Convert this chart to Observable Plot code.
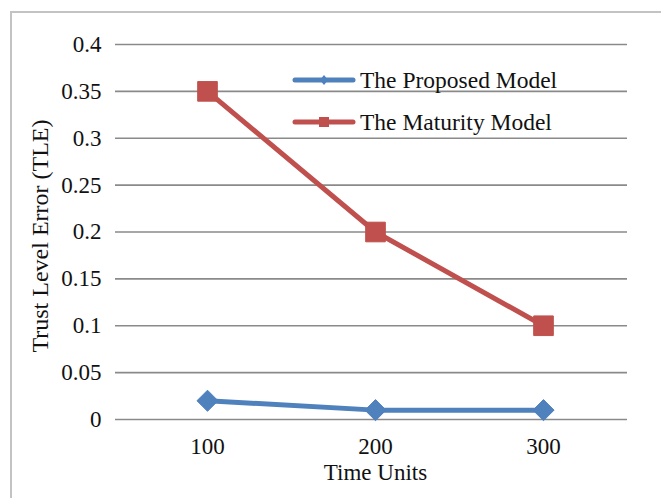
<!DOCTYPE html>
<html>
<head>
<meta charset="utf-8">
<script src="https://cdn.jsdelivr.net/npm/d3@7"></script>
<script src="https://cdn.jsdelivr.net/npm/@observablehq/plot@0.6"></script>
<style>
  html, body { margin: 0; padding: 0; background: #fff; overflow: hidden; }
  #wrap { position: relative; width: 661px; height: 498px; overflow: hidden; background: #fff; }
  #border { position: absolute; left: 10px; top: 11px; width: 700px; height: 600px; border: 2px solid #c3c3c3; box-sizing: border-box; }
  #chart { position: absolute; left: 0; top: 0; }
  #legend { position: absolute; left: 291px; top: 68px; font-family: "Liberation Serif", "Times New Roman", Tinos, "DejaVu Serif", serif; font-size: 23.5px; color: #111; }
  .item { display: flex; align-items: center; height: 24px; margin-bottom: 18px; }
  .item svg { margin-right: 3px; }
</style>
</head>
<body>
<div id="wrap">
  <div id="border"></div>
  <div id="chart"></div>
  <div id="legend"></div>
</div>
<script>
const timeUnits = [100, 200, 300];
const proposedModel = [0.02, 0.01, 0.01];
const maturityModel = [0.35, 0.2, 0.1];
const seriesNames = ["The Proposed Model", "The Maturity Model"];
const seriesColors = ["#4F81BD", "#C0504D"];
const yTicks = [0, 0.05, 0.1, 0.15, 0.2, 0.25, 0.3, 0.35, 0.4];

const proposed = timeUnits.map((t, i) => ({t, v: proposedModel[i]}));
const maturity = timeUnits.map((t, i) => ({t, v: maturityModel[i]}));

const font = "'Liberation Serif', 'Times New Roman', Tinos, 'DejaVu Serif', serif";

const chart = Plot.plot({
  width: 661,
  height: 498,
  marginTop: 44,
  marginBottom: 79,
  marginLeft: 123,
  marginRight: 34,
  style: {fontFamily: font, fontSize: "23px", color: "#111", background: "transparent"},
  x: {type: "point", domain: timeUnits, padding: 0.5},
  y: {domain: [0, 0.4]},
  marks: [
    Plot.ruleY(yTicks, {stroke: "#8a8a8a", strokeWidth: 1.6, insetLeft: -8}),
    Plot.ruleX([0], {frameAnchor: "left", stroke: "#a6a6a6", strokeWidth: 1.6}),
    Plot.axisY({ticks: yTicks, tickSize: 0, tickPadding: 22, tickFormat: d => String(+d.toFixed(2)), label: null, fill: "#111"}),
    Plot.axisX({ticks: timeUnits, tickSize: 0, tickPadding: 18, label: null, fill: "#111"}),
    Plot.text(["Time Units"], {frameAnchor: "bottom", dy: 60, fill: "#111"}),
    Plot.text(["Trust Level Error (TLE)"], {frameAnchor: "left", textAnchor: "middle", dx: -83, dy: 4, rotate: -90, fontSize: 24, fill: "#111"}),
    Plot.line(proposed, {x: "t", y: "v", stroke: seriesColors[0], strokeWidth: 5}),
    Plot.dot(proposed, {x: "t", y: "v", symbol: "diamond2", r: 9.5, fill: seriesColors[0], stroke: seriesColors[0], strokeWidth: 1}),
    Plot.line(maturity, {x: "t", y: "v", stroke: seriesColors[1], strokeWidth: 5}),
    Plot.dot(maturity, {x: "t", y: "v", symbol: "square2", r: 12.5, fill: seriesColors[1], stroke: seriesColors[1], strokeWidth: 1})
  ]
});
document.getElementById("chart").appendChild(chart);

// legend
const legend = document.getElementById("legend");
seriesNames.forEach((name, i) => {
  const item = document.createElement("div");
  item.className = "item";
  const marker = i === 0
    ? `<path d="M33 7 L37 12 L33 17 L29 12 Z" fill="${seriesColors[i]}"/>`
    : `<rect x="28" y="7" width="10" height="10" fill="${seriesColors[i]}"/>`;
  item.innerHTML = `<svg width="66" height="24"><line x1="4" y1="12" x2="62" y2="12" stroke="${seriesColors[i]}" stroke-width="5" stroke-linecap="round"/>${marker}</svg><span>${name}</span>`;
  legend.appendChild(item);
});
</script>
</body>
</html>
